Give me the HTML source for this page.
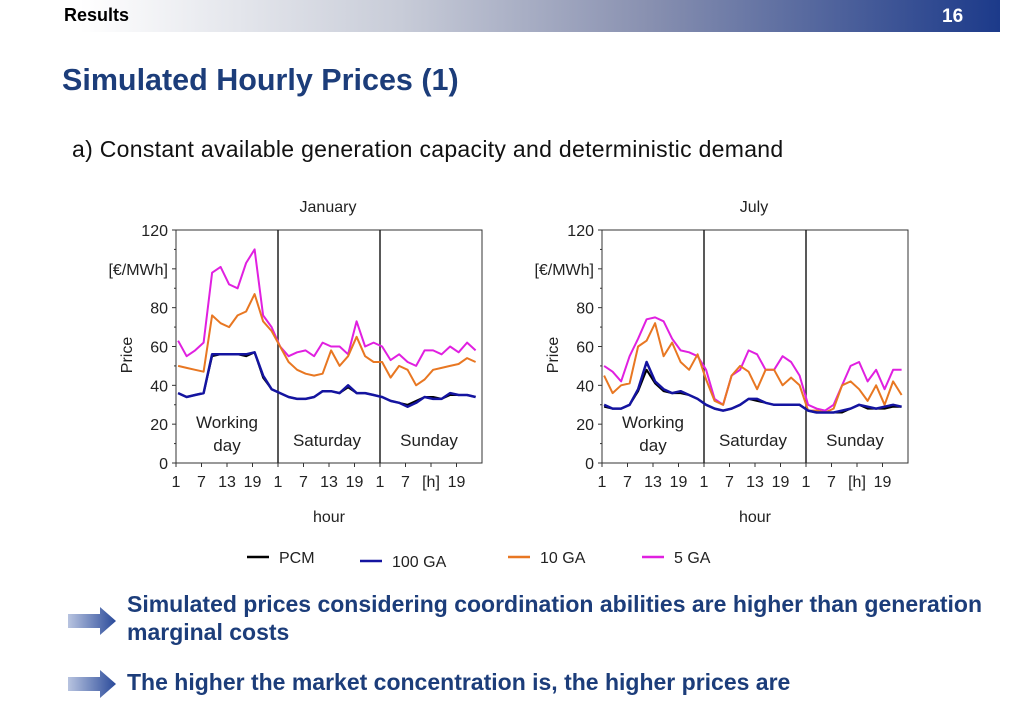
<!DOCTYPE html>
<html><head><meta charset="utf-8"><style>
body{margin:0;width:1030px;height:728px;background:#fff;font-family:"Liberation Sans",sans-serif;overflow:hidden;position:relative}
.hdr{position:absolute;left:0;top:0;width:1000px;height:32px;background:linear-gradient(to right,#fff 0%,#fff 8%,#c8ccd8 40%,#8890b0 65%,#1c3a8a 100%)}
.abs{position:absolute;white-space:nowrap}
.bul{position:absolute;left:127px;color:#1c3d7a;font-weight:bold;font-size:23px;line-height:28px;white-space:nowrap}
</style></head><body>
<div class="hdr"></div>
<div class="abs" style="left:64px;top:5px;font-size:18px;font-weight:bold;color:#000">Results</div>
<div class="abs" style="left:942px;top:6px;font-size:19px;font-weight:bold;color:#fff">16</div>
<div class="abs" style="left:62px;top:63px;font-size:30.5px;font-weight:bold;color:#1c3d7a">Simulated Hourly Prices (1)</div>
<div class="abs" style="left:72px;top:136px;font-size:23px;letter-spacing:0.3px;color:#111">a) Constant available generation capacity and deterministic demand</div>
<svg id="chart" style="position:absolute;left:0;top:0" width="1030" height="600"></svg>
<svg style="position:absolute;left:66px;top:606px" width="52" height="30"><defs><linearGradient id="ag" x1="0" x2="1"><stop offset="0" stop-color="#b8c4e0"/><stop offset="1" stop-color="#2a4a9a"/></linearGradient></defs><polygon points="2,8 34,8 34,1 50,15 34,29 34,22 2,22" fill="url(#ag)"/></svg>
<svg style="position:absolute;left:66px;top:669px" width="52" height="30"><polygon points="2,8 34,8 34,1 50,15 34,29 34,22 2,22" fill="url(#ag)"/></svg>
<div class="bul" style="top:590px">Simulated prices considering coordination abilities are higher than generation<br>marginal costs</div>
<div class="bul" style="top:668px">The higher the market concentration is, the higher prices are</div>
<script>
const yTicks=[0,20,40,60,80,100,120];
const xTickLabels=["1","7","13","19","1","7","13","19","1","7","[h]","19"];
const hours=[1,3,5,7,9,11,13,15,17,19,21,23];
const janPCM=[36,34,35,36,55,56,56,56,55,57,44,38, 36,34,33,33,34,37,37,36,39,36,36,35, 34,32,31,30,32,34,34,33,35,35,35,34];
const jan100=[36,34,35,36,56,56,56,56,56,57,45,38, 36,34,33,33,34,37,37,36,40,36,36,35, 34,32,31,29,31,34,33,33,36,35,35,34];
const jan10=[50,49,48,47,76,72,70,76,78,87,73,68, 60,52,48,46,45,46,58,50,55,65,55,52, 52,44,50,48,40,43,48,49,50,51,54,52];
const jan5=[63,55,58,62,98,101,92,90,103,110,76,70, 60,55,57,58,55,62,60,60,56,73,60,62, 60,53,56,52,50,58,58,56,60,57,62,58];
const julPCM=[29,28,28,30,37,48,41,37,36,36,35,33, 30,28,27,28,30,33,32,31,30,30,30,30, 27,26,26,26,26,28,30,28,28,28,29,29];
const jul100=[30,28,28,30,38,52,42,38,36,37,35,33, 30,28,27,28,30,33,33,31,30,30,30,30, 27,26,26,26,27,28,30,29,28,29,30,29];
const jul10=[45,36,40,41,60,63,72,55,62,52,48,56, 43,32,30,45,50,47,38,48,48,40,44,40, 27,27,26,28,40,42,38,32,40,30,42,35];
const jul5=[50,47,42,55,64,74,75,73,64,58,57,55, 48,33,30,45,48,58,56,48,48,55,52,45, 30,28,27,30,40,50,52,42,48,38,48,48];
const NS="http://www.w3.org/2000/svg";
const svg=document.getElementById('chart');
function mk(t,a,txt){const e=document.createElementNS(NS,t);for(const k in a)e.setAttribute(k,a[k]);if(txt!==undefined)e.textContent=txt;svg.appendChild(e);return e;}
function drawChart(x0,title,series){
  const yb=463,yt=230;
  const xs=(day,h)=>x0+day*102+(h-0.5)/24*102;
  const ys=v=>yb-(v/120)*(yb-yt);
  let e=mk('text',{x:x0+152,y:212,'font-size':16,'text-anchor':'middle',fill:'#222'},title);
  
  
  e=mk('rect',{x:x0,y:yt,width:306,height:yb-yt,fill:'none',stroke:'#333','stroke-width':1});
  
  
  for(const d of [1,2]){e=mk('line',{x1:x0+d*102,x2:x0+d*102,y1:yt,y2:yb,stroke:'#222','stroke-width':1.5});
    
    }
  yTicks.forEach(v=>{
    mk('line',{x1:x0-4,x2:x0,y1:ys(v),y2:ys(v),stroke:'#333'});
    if(v<120)mk('line',{x1:x0-2,x2:x0,y1:ys(v+10),y2:ys(v+10),stroke:'#333'});
    e=mk('text',{x:x0-8,y:ys(v)+6,'font-size':16,'text-anchor':'end',fill:'#222'},v===100?'[€/MWh]':String(v));
    
    
  });
  e=mk('text',{x:0,y:0,'font-size':16,'text-anchor':'middle',fill:'#222',transform:`translate(${x0-44},355) rotate(-90)`},'Price');
  
  
  xTickLabels.forEach((l,i)=>{
    const x=x0+i*25.5;
    mk('line',{x1:x,x2:x,y1:yb,y2:yb+4,stroke:'#333'});
    e=mk('text',{x:x,y:yb+24,'font-size':16,'text-anchor':'middle',fill:'#222'},l);
    
    
  });
  e=mk('text',{x:x0+153,y:522,'font-size':16,'text-anchor':'middle',fill:'#222'},'hour');
  
  
  [['Working',x0+51,428],['day',x0+51,451],['Saturday',x0+151,446],['Sunday',x0+253,446]].forEach(t=>{
    e=mk('text',{x:t[1],y:t[2],'font-size':17,'text-anchor':'middle',fill:'#222'},t[0]);
    
    
  });
  series.forEach(s=>{
    const pts=s.v.map((v,i)=>xs(Math.floor(i/12),hours[i%12]).toFixed(1)+','+ys(v).toFixed(1)).join(' ');
    e=mk('polyline',{points:pts,fill:'none',stroke:s.c,'stroke-width':s.w,'stroke-linejoin':'round'});
    
    
  });
}
drawChart(176,'January',[{v:jan5,c:'#e020e0',w:2,n:'jan-5ga-line'},{v:jan10,c:'#e87722',w:2,n:'jan-10ga-line'},{v:janPCM,c:'#000',w:2,n:'jan-pcm-line'},{v:jan100,c:'#1414a0',w:2.5,n:'jan-100ga-line'}]);
drawChart(602,'July',[{v:jul5,c:'#e020e0',w:2,n:'jul-5ga-line'},{v:jul10,c:'#e87722',w:2,n:'jul-10ga-line'},{v:julPCM,c:'#000',w:2,n:'jul-pcm-line'},{v:jul100,c:'#1414a0',w:2.5,n:'jul-100ga-line'}]);
[['PCM','#000',247,557],['100 GA','#1414a0',360,561],['10 GA','#e87722',508,557],['5 GA','#e020e0',642,557]].forEach(l=>{
  let e=mk('line',{x1:l[2],x2:l[2]+22,y1:l[3],y2:l[3],stroke:l[1],'stroke-width':2.5});
  
  
  e=mk('text',{x:l[2]+32,y:l[3]+6,'font-size':16,fill:'#222'},l[0]);
  
  
});
</script>
</body></html>
